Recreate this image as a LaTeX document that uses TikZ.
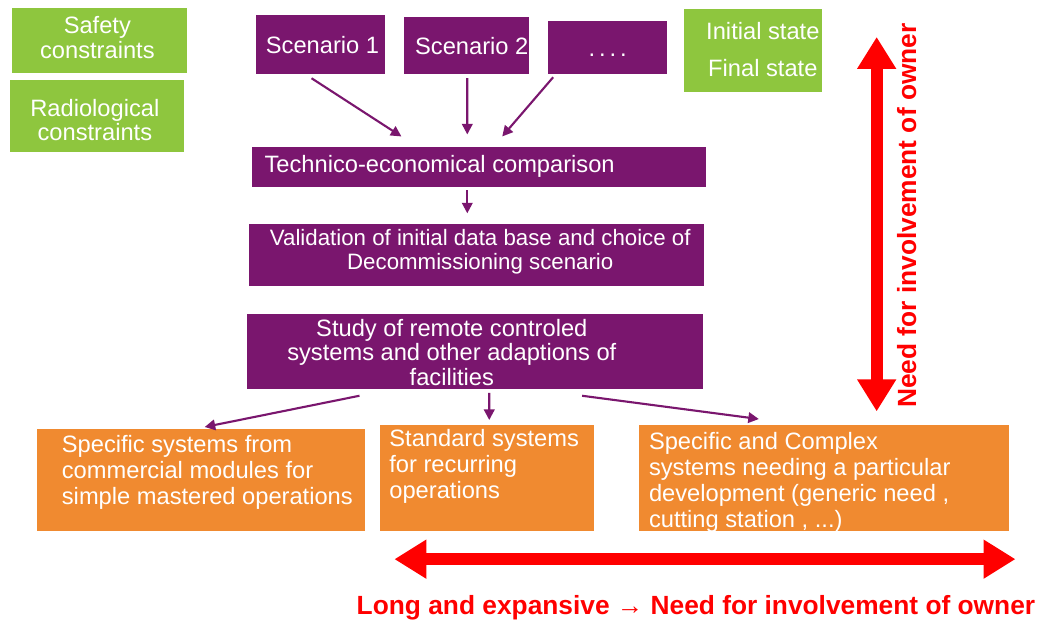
\documentclass[tikz,border=0pt]{standalone}
\usepackage{fontspec}
\setmainfont{Liberation Sans}
\usetikzlibrary{arrows.meta,fit,calc}
\definecolor{plum}{RGB}{122,22,110}
\definecolor{leaf}{RGB}{142,198,62}
\definecolor{amber}{RGB}{240,138,48}
\definecolor{signal}{RGB}{255,0,0}
\tikzset{
 box/.style={inner sep=0pt},
 plumbox/.style={box, fill=plum},
 leafbox/.style={box, fill=leaf},
 amberbox/.style={box, fill=amber},
 boxtext/.style={inner sep=0pt, text=white, align=center, font=\fontsize{13.5}{14}\selectfont},
 flow/.style={plum, line width=1.2pt, -{Triangle[length=6pt,width=6pt]}},
 bigspan/.style={signal, line width=0.24cm, {Triangle[width=0.74cm,length=0.64cm]}-{Triangle[width=0.74cm,length=0.64cm]}},
 note/.style={text=signal, font=\bfseries\fontsize{15}{18}\selectfont},
}
\begin{document}
\begin{tikzpicture}[x=0.02cm, y=-0.02cm]
 \fill[white] (0,0) rectangle (1041,626);
%
 \node[leafbox, fit={(12,8) (187,73)}] (safety) {};
 \node[boxtext] (safetytext) at ($(safety.center)+(-2,-3)$) {Safety\\constraints};
 \node[leafbox, fit={(10,80) (184,152)}] (radio) {};
 \node[boxtext] (radiotext) at ($(radio.center)+(-2,4)$) {Radiological\\constraints};
 \node[leafbox, fit={(685,9) (823,92)}] (state) {};
 \node[boxtext, font=\fontsize{13.5}{21}\selectfont] (statetext) at ($(state.center)+(10,-1)$) {Initial state\\Final state};
%
 \node[plumbox, fit={(256,15) (386,74)}] (sc1) {};
 \node[boxtext] (sc1text) at ($(sc1.center)+(2,1)$) {Scenario 1};
 \node[plumbox, fit={(405,17) (530,74)}] (sc2) {};
 \node[boxtext] (sc2text) at ($(sc2.center)+(5,1)$) {Scenario 2};
 \node[plumbox, fit={(549,21) (668,74)}] (sc3) {};
 \node[boxtext] (sc3text) at ($(sc3.center)+(0,4)$) {\strut.\,.\,.\,.};
%
 \node[plumbox, fit={(252,147) (707,187)}] (tech) {};
 \node[boxtext, anchor=west] (techtext) at ($(tech.west)+(13,0)$) {Technico-economical comparison};
 \node[plumbox, fit={(249,224) (705,286)}] (valid) {};
 \node[boxtext, font=\fontsize{12.7}{13.6}\selectfont] (validtext) at ($(valid.center)+(4,-3)$) {Validation of initial data base and choice of\\Decommissioning scenario};
 \node[plumbox, fit={(247,314) (704,390)}] (study) {};
 \node[boxtext] (studytext) at ($(study.center)+(-23,1)$) {Study of remote controled\\systems and other adaptions of\\facilities};
%
 \node[amberbox, fit={(37,430) (366,532)}] (sys1) {};
 \node[boxtext, align=left, anchor=north west, font=\fontsize{13.5}{14.8}\selectfont] (sys1text) at ($(sys1.north west)+(25,6)$) {Specific systems from\\commercial modules for\\simple mastered operations};
 \node[amberbox, fit={(381,426) (595,532)}] (sys2) {};
 \node[boxtext, align=left, anchor=north west, font=\fontsize{13.5}{14.8}\selectfont] (sys2text) at ($(sys2.north west)+(9,4)$) {Standard systems\\for recurring\\operations};
 \node[amberbox, fit={(640,426) (1011,532)}] (sys3) {};
 \node[boxtext, align=left, anchor=north west, font=\fontsize{13.5}{14.8}\selectfont] (sys3text) at ($(sys3.north west)+(10,7)$) {Specific and Complex\\systems needing a particular\\development (generic need ,\\cutting station , ...)};
%
 \draw[flow] ($(sc1.south)+(-9,4)$) -- ($(tech.north)+(-77.5,-10)$);
 \draw[flow] ($(sc2.south)+(0.5,4)$) -- ($(tech.north)+(-11.5,-12)$);
 \draw[flow] ($(sc3.south)+(-54.5,3)$) -- ($(tech.north)+(23.5,-10)$);
 \draw[flow] ($(tech.south)+(-11.5,3)$) -- ($(valid.north)+(-9,-10)$);
 \draw[flow] ($(study.south)+(-115.5,6)$) -- ($(sys1.north)+(3.5,-2)$);
 \draw[flow] ($(study.south)+(14.5,3)$) -- ($(sys2.north)+(2,-5)$);
 \draw[flow] ($(study.south)+(107.5,6)$) -- ($(sys3.north)+(-65.5,-6)$);
%
 \coordinate (vtop) at (878,37);
 \coordinate (vbot) at (878,412);
 \draw[bigspan] (vtop) -- (vbot);
 \node[note, rotate=90] (vlabel) at (908,216) {Need for involvement of owner};
%
 \coordinate (hleft) at (395,560);
 \coordinate (hright) at (1017,560);
 \draw[bigspan] (hleft) -- (hright);
 \node[note] (hlabel) at (697,609) {Long and expansive → Need for involvement of owner};
\end{tikzpicture}
\end{document}
